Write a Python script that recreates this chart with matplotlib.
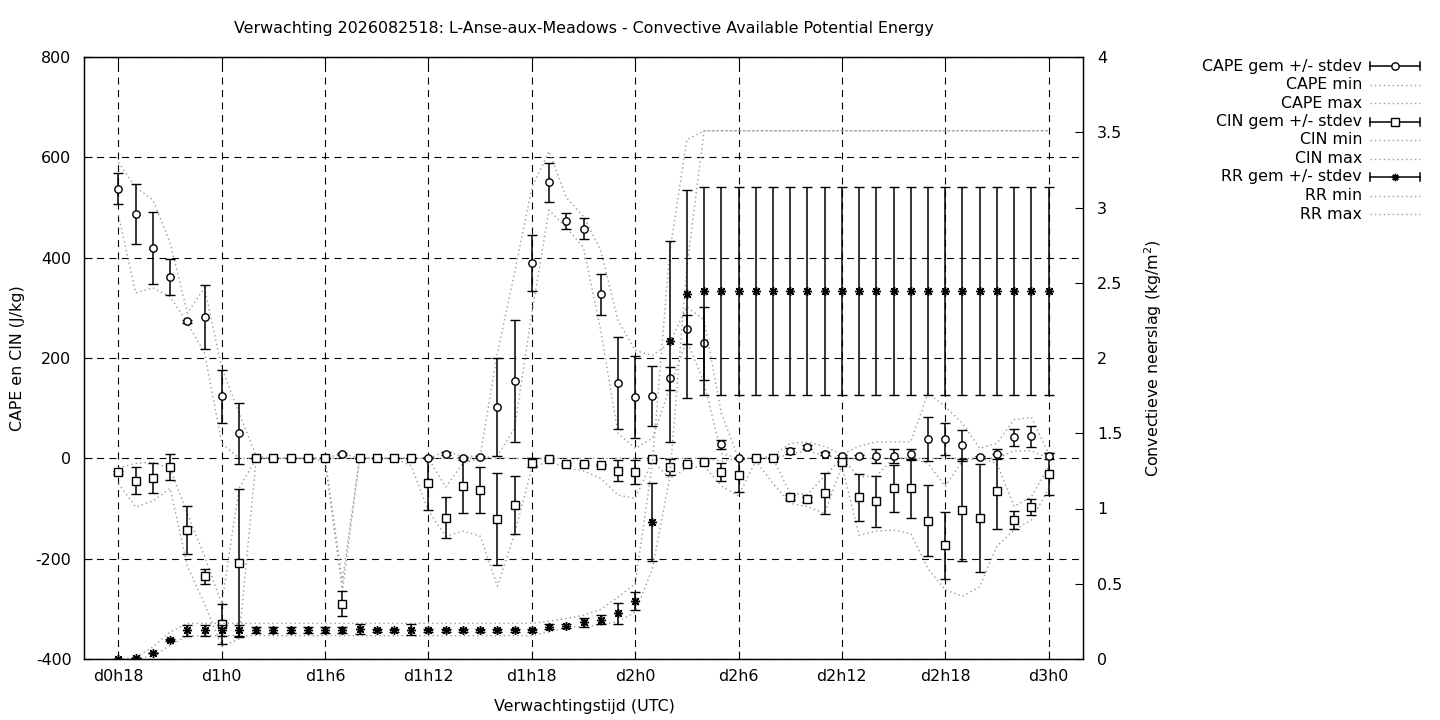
import numpy as np
import matplotlib
matplotlib.use("Agg")
import matplotlib.pyplot as plt
from matplotlib.lines import Line2D

plt.rcParams['font.family'] = ['DejaVu Sans']
plt.rcParams['axes.unicode_minus'] = False
plt.rcParams['lines.scale_dashes'] = False

# ---------------- data ----------------
hours = list(range(18, 73))  # forecast hour (d0h18 .. d3h0)
tick_hours = [18, 24, 30, 36, 42, 48, 54, 60, 66, 72]
tick_labels = ["d0h18", "d1h0", "d1h6", "d1h12", "d1h18", "d2h0",
               "d2h6", "d2h12", "d2h18", "d3h0"]

cape_mean = [537, 487, 419, 361, 273, 282, 124, 50, 0, 0,
             0, 0, 0, 9, 0, 0, 0, 0, 0, 9,
             1, 3, 102, 154, 389, 550, 474, 458, 327, 150,
             122, 124, 160, 257, 229, 28, 0, 0, 0, 14,
             22, 9, 4, 4, 5, 4, 8, 38, 38, 26,
             2, 9, 42, 44, 4]
cape_sd = [31, 60, 72, 36, 3, 64, 53, 61, 0, 0,
           0, 0, 0, 2, 0, 0, 0, 0, 0, 3,
           1, 2, 98, 121, 56, 39, 16, 21, 41, 91,
           82, 60, 23, 29, 73, 9, 0, 0, 0, 6,
           4, 3, 2, 3, 14, 14, 11, 44, 32, 31,
           2, 10, 17, 21, 6]
cape_min = [485, 330, 340, 322, 270, 210, 30, 0, 0, 0,
            0, 0, 0, 0, 0, 0, 0, 0, 0, 0,
            0, 0, 5, 60, 290, 495, 460, 420, 255, 50,
            20, 40, 140, 236, 150, 10, 0, 0, 0, 8,
            15, 5, 0, 0, 0, 0, 0, 0, 0, 0,
            0, 0, 15, 15, 0]
cape_max = [590, 540, 515, 430, 290, 340, 180, 90, 5, 0,
            0, 0, 0, 10, 0, 0, 0, 0, 0, 14,
            3, 5, 210, 370, 540, 612, 520, 482, 415, 275,
            215, 205, 230, 302, 276, 90, 0, 0, 5, 30,
            32, 24, 8, 24, 33, 33, 33, 130, 103, 70,
            20, 30, 77, 82, 10]

cin_mean = [-28, -45, -39, -18, -143, -235, -330, -209, 0, 0,
            0, 0, 0, -290, 0, 0, 0, 0, -50, -118,
            -56, -63, -121, -93, -9, -2, -12, -12, -14, -25,
            -28, -2, -18, -11, -8, -28, -34, 0, 0, -78,
            -82, -70, -8, -78, -86, -60, -60, -124, -173, -103,
            -119, -66, -123, -97, -31]
cin_sd = [3, 27, 30, 26, 47, 15, 40, 148, 0, 0,
          0, 0, 0, 25, 0, 0, 0, 0, 52, 40,
          52, 45, 92, 57, 9, 2, 2, 2, 2, 21,
          24, 2, 16, 2, 2, 18, 33, 0, 0, 5,
          5, 40, 3, 47, 50, 47, 58, 71, 67, 101,
          108, 74, 18, 16, 42]
cin_min = [-50, -97, -85, -60, -215, -290, -375, -360, 0, 0,
           0, 0, -5, -265, 0, 0, 0, -15, -105, -155,
           -145, -155, -255, -150, -20, -5, -20, -25, -40, -73,
           -80, -5, -40, -20, -15, -55, -75, -5, -50, -90,
           -96, -110, -15, -153, -145, -143, -150, -220, -262, -275,
           -256, -175, -143, -123, -60]
cin_max = [-19, -10, -8, -20, -110, -195, -290, -60, 0, 0,
           0, 0, 0, -245, 0, 0, 0, 0, 0, -57,
           -10, 0, 0, 0, 0, 0, 0, 0, 0, 0,
           0, 0, 0, 0, 0, -5, 0, 0, 0, -70,
           -72, -35, 0, -37, -35, 0, 0, -10, -56, -5,
           0, -10, -96, -77, -17]

rr_mean = [0, 0.005, 0.04, 0.125, 0.19, 0.19, 0.19, 0.19, 0.19, 0.19,
           0.19, 0.19, 0.19, 0.19, 0.2, 0.19, 0.19, 0.195, 0.19, 0.19,
           0.19, 0.19, 0.19, 0.19, 0.19, 0.215, 0.22, 0.245, 0.26, 0.305,
           0.385, 0.91, 2.11, 2.425, 2.443, 2.443, 2.443, 2.443, 2.443, 2.443,
           2.443, 2.443, 2.443, 2.443, 2.443, 2.443, 2.443, 2.443, 2.443, 2.443,
           2.443, 2.443, 2.443, 2.443, 2.443]
rr_sd = [0, 0, 0.003, 0.005, 0.035, 0.035, 0.035, 0.035, 0.02, 0.02,
         0.02, 0.02, 0.02, 0.02, 0.035, 0.01, 0.01, 0.035, 0.01, 0.01,
         0.01, 0.01, 0.01, 0.01, 0.01, 0.015, 0.015, 0.03, 0.03, 0.07,
         0.057, 0.26, 0.665, 0.69, 0.691, 0.691, 0.691, 0.691, 0.691, 0.691,
         0.691, 0.691, 0.691, 0.691, 0.691, 0.691, 0.691, 0.691, 0.691, 0.691,
         0.691, 0.691, 0.691, 0.691, 0.691]
rr_min = [0, 0, 0.02, 0.09, 0.155, 0.155, 0.155, 0.155, 0.155, 0.155,
          0.155, 0.155, 0.155, 0.155, 0.155, 0.155, 0.155, 0.155, 0.155, 0.155,
          0.155, 0.155, 0.155, 0.155, 0.155, 0.18, 0.21, 0.215, 0.226, 0.25,
          0.31, 0.6, 1.2, 2.6, 3.51, 3.51, 3.51, 3.51, 3.51, 3.51,
          3.51, 3.51, 3.51, 3.51, 3.51, 3.51, 3.51, 3.51, 3.51, 3.51,
          3.51, 3.51, 3.51, 3.51, 3.51]
rr_max = [0, 0.01, 0.08, 0.18, 0.237, 0.237, 0.237, 0.237, 0.237, 0.237,
          0.237, 0.237, 0.237, 0.237, 0.237, 0.237, 0.237, 0.237, 0.237, 0.237,
          0.237, 0.237, 0.237, 0.237, 0.237, 0.25, 0.27, 0.29, 0.33, 0.41,
          0.5, 1.3, 2.7, 3.45, 3.51, 3.51, 3.51, 3.51, 3.51, 3.51,
          3.51, 3.51, 3.51, 3.51, 3.51, 3.51, 3.51, 3.51, 3.51, 3.51,
          3.51, 3.51, 3.51, 3.51, 3.51]

title = "Verwachting 2026082518: L-Anse-aux-Meadows - Convective Available Potential Energy"

# ---------------- figure ----------------
W, H = 1440, 720
FS = 11.4
fig = plt.figure(figsize=(W / 100, H / 100), dpi=100)
L, R, T, B = 84, 1083, 57, 659
ax = fig.add_axes([L / W, 1 - B / H, (R - L) / W, (B - T) / H])
ax2 = ax.twinx()

def fx(px):
    return px / W

def fy(py):
    return 1 - py / H

DOT = dict(color='#9a9a9a', lw=1.0, ls=(0, (1, 2.2)))
EB = dict(color='black', elinewidth=1.1, capsize=3.6, capthick=1.1,
          linestyle='none', mfc='white', mec='black', mew=1.0)

x = np.array(hours)

# dotted min / max lines
ax.plot(x, cape_min, zorder=2, **DOT)
ax.plot(x, cape_max, zorder=2, **DOT)
ax.plot(x, cin_min, zorder=2, **DOT)
ax.plot(x, cin_max, zorder=2, **DOT)
ax2.plot(x, rr_min, zorder=2, **DOT)
ax2.plot(x, rr_max, zorder=2, **DOT)

# error bars
ax.errorbar(x, cape_mean, yerr=cape_sd, marker='o', ms=5.3, zorder=4, **EB)
ax.errorbar(x, cin_mean, yerr=cin_sd, marker='s', ms=5.3, zorder=4, **EB)
ax2.errorbar(x, rr_mean, yerr=rr_sd, marker=(8, 2, 0), ms=6.5, zorder=4,
             color='black', elinewidth=1.1, capsize=3.6, capthick=1.1,
             linestyle='none', mec='black', mew=1.0)

# axes ranges & ticks
ax.set_xlim(16, 74)
ax.set_ylim(-400, 800)
ax2.set_ylim(0, 4)
ax.set_xticks(tick_hours)
ax.set_xticklabels(tick_labels)
yt = [-400, -200, 0, 200, 400, 600, 800]
ax.set_yticks(yt)
ax.set_yticklabels([str(v) for v in yt])
y2t = [0, 0.5, 1, 1.5, 2, 2.5, 3, 3.5, 4]
ax2.set_yticks(y2t)
ax2.set_yticklabels(["0", "0.5", "1", "1.5", "2", "2.5", "3", "3.5", "4"])

for a in (ax, ax2):
    a.tick_params(direction='in', length=6, width=0.8, labelsize=FS, colors='black')
    for s in a.spines.values():
        s.set_linewidth(0.9)
        s.set_color('black')
ax.tick_params(axis='y', pad=9)
ax.tick_params(axis='x', pad=7, top=True)
ax2.tick_params(axis='y', pad=10)

ax.grid(True, color='black', lw=0.8, ls=(0, (5, 4)))
ax.set_axisbelow(True)
ax2.patch.set_visible(False)

# texts
fig.text(fx(584), fy(29), title, ha='center', va='center', fontsize=FS)
fig.text(fx(584), fy(706), "Verwachtingstijd (UTC)", ha='center', va='center', fontsize=FS)
fig.text(fx(18), fy(358), "CAPE en CIN (J/kg)", ha='center', va='center',
         rotation=90, fontsize=FS)
fig.text(fx(1153), fy(358), "Convectieve neerslag (kg/m$^2$)", ha='center', va='center',
         rotation=90, fontsize=FS)

# legend (gnuplot-style key, text right-aligned, sample on the right)
entries = [("CAPE gem +/- stdev", 'o'), ("CAPE min", None), ("CAPE max", None),
           ("CIN gem +/- stdev", 's'), ("CIN min", None), ("CIN max", None),
           ("RR gem +/- stdev", (8, 2, 0)), ("RR min", None), ("RR max", None)]
x0, x1 = 1370, 1420
for k, (lab, mk) in enumerate(entries):
    yy = 66 + 18.5 * k
    fig.text(fx(1362), fy(yy), lab, ha='right', va='center', fontsize=FS)
    if mk is None:
        fig.add_artist(Line2D([fx(x0), fx(x1)], [fy(yy), fy(yy)], **DOT))
    else:
        fig.add_artist(Line2D([fx(x0), fx(x1)], [fy(yy), fy(yy)], color='black', lw=1.1))
        for xc in (x0, x1):
            fig.add_artist(Line2D([fx(xc), fx(xc)], [fy(yy - 4), fy(yy + 4)],
                                  color='black', lw=1.1))
        fig.add_artist(Line2D([fx((x0 + x1) / 2)], [fy(yy)], marker=mk, ms=5.3,
                              mfc='white', mec='black', mew=1.0, color='black'))

fig.savefig("out.png", dpi=100)
